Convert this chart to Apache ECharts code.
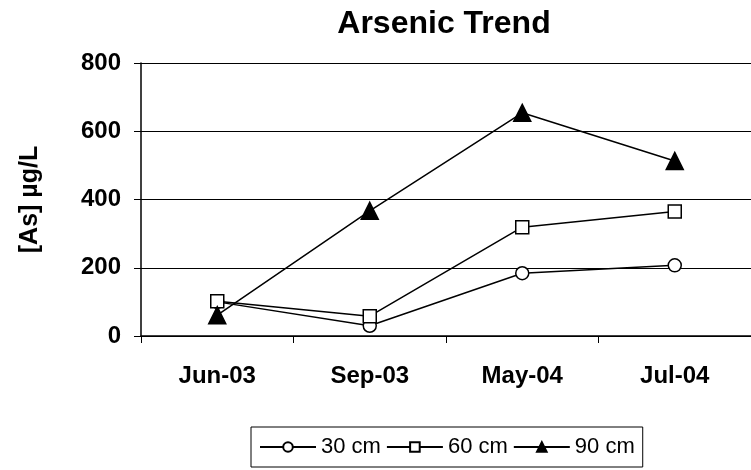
<!DOCTYPE html>
<html>
<head>
<meta charset="utf-8">
<script src="https://cdn.jsdelivr.net/npm/echarts@6/dist/echarts.min.js"></script>
<style>
html,body{margin:0;padding:0;background:#fff;}
#chart{width:751px;height:470px;}
</style>
</head>
<body>
<div id="chart"></div>
<script>
const categories = ['Jun-03', 'Sep-03', 'May-04', 'Jul-04'];
const s30 = [100, 30, 184, 207];
const s60 = [102, 58, 319, 365];
const s90 = [61, 367, 654, 513];
const yTicks = { min: 0, max: 800, interval: 200 };

const FONT = '"Liberation Sans", Arial, sans-serif';
const chart = echarts.init(document.getElementById('chart'), null, { renderer: 'canvas' });

function mkSeries(name, data, symbol, size, filled) {
  return {
    name: name,
    type: 'line',
    data: data,
    symbol: symbol,
    symbolSize: size,
    showAllSymbol: true,
    lineStyle: { color: '#000', width: 1.5 },
    itemStyle: { color: filled ? '#000' : '#fff', borderColor: '#000', borderWidth: 1.5 },
    emphasis: { disabled: true },
    animation: false
  };
}

chart.setOption({
  animation: false,
  backgroundColor: '#fff',
  title: {
    text: 'Arsenic Trend',
    left: 439,
    top: 3,
    textAlign: 'center',
    textStyle: { fontFamily: FONT, fontWeight: 'bold', fontSize: 32, color: '#000' }
  },
  grid: { left: 141, right: -4, top: 63, bottom: 134, containLabel: false },
  legend: {
    data: ['30 cm', '60 cm', '90 cm'],
    left: 251,
    top: 427,
    orient: 'horizontal',
    borderColor: '#000',
    borderWidth: 1,
    padding: [9, 8, 9, 8],
    itemGap: 5,
    itemWidth: 56,
    itemHeight: 12,
    textStyle: { fontFamily: FONT, fontSize: 22, color: '#000' }
  },
  xAxis: {
    type: 'category',
    data: categories,
    boundaryGap: true,
    axisLine: { lineStyle: { color: '#000', width: 1.5 } },
    axisTick: { show: true, length: 7, inside: false, lineStyle: { color: '#000', width: 1 } },
    axisLabel: { fontFamily: FONT, fontWeight: 'bold', fontSize: 24, color: '#000', margin: 28 },
    splitLine: { show: false }
  },
  yAxis: {
    type: 'value',
    min: yTicks.min,
    max: yTicks.max,
    interval: yTicks.interval,
    name: '[As] \u00b5g/L',
    nameLocation: 'middle',
    nameRotate: 90,
    nameGap: 98,
    nameTextStyle: { fontFamily: FONT, fontWeight: 'bold', fontSize: 25, color: '#000' },
    axisLine: { show: true, lineStyle: { color: '#000', width: 1.5 } },
    axisTick: { show: true, length: 7, inside: false, lineStyle: { color: '#000', width: 1 } },
    axisLabel: { fontFamily: FONT, fontWeight: 'bold', fontSize: 24, color: '#000', margin: 20 },
    splitLine: { show: true, lineStyle: { color: '#000', width: 1 } }
  },
  series: [
    mkSeries('30 cm', s30, 'circle', 13, false),
    mkSeries('60 cm', s60, 'rect', 13, false),
    mkSeries('90 cm', s90, 'triangle', 17, true)
  ]
});
</script>
</body>
</html>
